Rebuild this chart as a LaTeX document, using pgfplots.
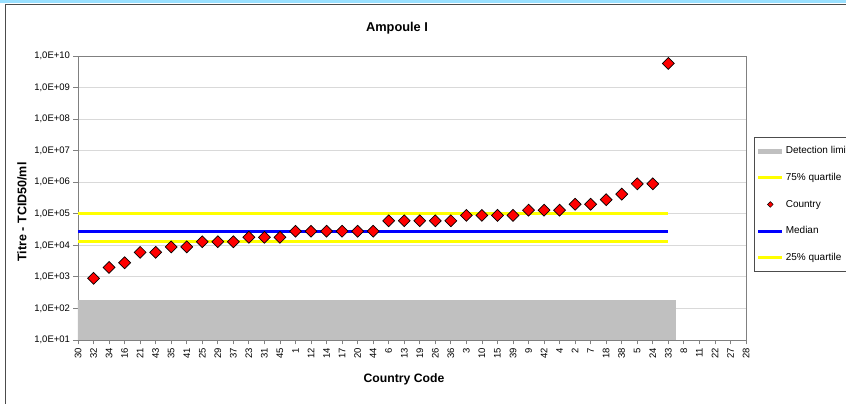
\documentclass[border=0pt]{standalone}
\usepackage{pgfplots}
\pgfplotsset{compat=1.18}
\usepackage{fontspec}
\setmainfont{Liberation Sans}
\definecolor{gridc}{RGB}{217,217,217}
\definecolor{axc}{RGB}{128,128,128}
\definecolor{detc}{RGB}{192,192,192}
\definecolor{yel}{RGB}{255,255,0}
\definecolor{blu}{RGB}{0,0,255}
\begin{document}
\begin{tikzpicture}[x=1pt,y=1pt]
\useasboundingbox (0,0) rectangle (846,404);
\fill[white] (0,0) rectangle (846,404);
\fill[blue!30!cyan!40] (0,401.3) rectangle (846,404);
\draw[line width=1pt, black!70] (5,0) -- (5,399.6) -- (846,399.6);
\node[font=\bfseries\fontsize{12.8}{14}\selectfont] at (397,376) {Ampoule I};
\node[font=\bfseries\fontsize{12.5}{14}\selectfont, rotate=90] at (22,192) {Titre - TCID50/ml};
\node[font=\bfseries\fontsize{12.2}{14}\selectfont] at (404,25) {Country Code};
\begin{axis}[
  at={(78pt,64pt)}, anchor=south west,
  scale only axis, width=668pt, height=284pt,
  ymode=log, ymin=10, ymax=1e10,
  xmin=0, xmax=43,
  axis line style={axc, line width=0.8pt},
  tick style={axc, line width=0.8pt},
  tick align=outside, major tick length=4.5pt,
  xtick pos=left, ytick pos=left,
  ymajorgrids, grid style={gridc, line width=0.8pt},
  ytick={1e1,1e2,1e3,1e4,1e5,1e6,1e7,1e8,1e9,1e10},
  yticklabels={{1,0E+01},{1,0E+02},{1,0E+03},{1,0E+04},{1,0E+05},{1,0E+06},{1,0E+07},{1,0E+08},{1,0E+09},{1,0E+10}},
  yminorticks=false,
  xtick={0,...,43},
  xticklabels={30,32,34,16,21,43,35,41,25,29,37,23,31,45,1,12,14,17,20,44,6,13,19,26,36,3,10,15,39,9,42,4,2,7,18,38,5,24,33,8,11,22,27,28},
  ticklabel style={font=\fontsize{9.5}{11}\selectfont},
  xticklabel style={rotate=90, anchor=east},
  legend style={at={(1.012,0.715)}, anchor=north west, draw=black!70, line width=0.6pt,
    font=\fontsize{10}{11.5}\selectfont, row sep=14pt, inner xsep=1.5pt, inner ysep=7.5pt,
    cells={anchor=west}, nodes={inner xsep=1pt},
    /tikz/every even column/.append style={column sep=0pt}},
  legend cell align=left,
  legend image code/.code={\draw[mark repeat=2,mark phase=2,#1] plot coordinates {(0pt,0pt) (12pt,0pt) (24pt,0pt)};},
  clip=true,
]
% detection limit area
\addplot[fill=detc, draw=none, forget plot] coordinates {(-0.5,10) (-0.5,180) (38.5,180) (38.5,10)} -- cycle;
% quartile and median lines
\addplot[yel, line width=3pt, forget plot] coordinates {(0,1.0e5) (38,1.0e5)};
\addplot[yel, line width=3pt, forget plot] coordinates {(0,1.3e4) (38,1.3e4)};
\addplot[blu, line width=3pt, forget plot] coordinates {(0,2.8e4) (38,2.8e4)};
% countries
\addplot[only marks, mark=square*, mark size=4.2pt, mark options={fill=red, draw=black, line width=0.7pt, rotate=45}, forget plot]
coordinates {
(1,9.0e2) (2,2.0e3) (3,2.8e3) (4,6.0e3) (5,6.0e3) (6,8.9e3) (7,8.9e3)
(8,1.3e4) (9,1.3e4) (10,1.3e4) (11,1.8e4) (12,1.8e4) (13,1.8e4)
(14,2.8e4) (15,2.8e4) (16,2.8e4) (17,2.8e4) (18,2.8e4) (19,2.8e4)
(20,6.0e4) (21,6.0e4) (22,6.0e4) (23,6.0e4) (24,6.0e4)
(25,8.9e4) (26,8.9e4) (27,8.9e4) (28,8.9e4)
(29,1.3e5) (30,1.3e5) (31,1.3e5) (32,2.0e5) (33,2.0e5) (34,2.8e5) (35,4.2e5)
(36,8.9e5) (37,8.9e5) (38,5.8e9)
};
\addlegendimage{detc, line width=5pt}
\addlegendentry{\makebox[75pt][l]{Detection limit}}
\addlegendimage{yel, line width=3pt}
\addlegendentry{75\% quartile}
\addlegendimage{only marks, mark=square*, mark size=2pt, mark options={fill=red, draw=black, line width=0.5pt, rotate=45}}
\addlegendentry{Country}
\addlegendimage{blu, line width=3pt}
\addlegendentry{Median}
\addlegendimage{yel, line width=3pt}
\addlegendentry{25\% quartile}
\end{axis}
\end{tikzpicture}
\end{document}
